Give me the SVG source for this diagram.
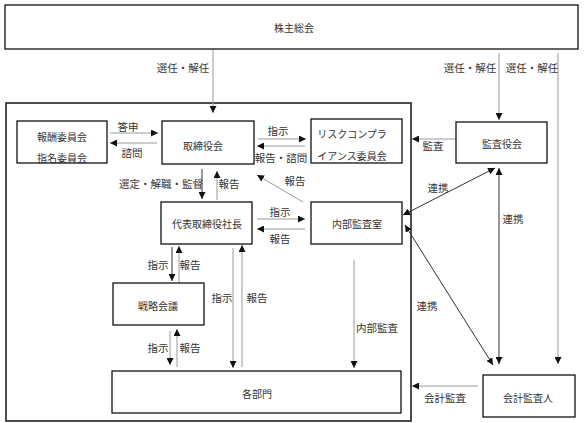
<svg xmlns="http://www.w3.org/2000/svg" width="587" height="423" viewBox="0 0 587 423">
<style>
.box{fill:#fff;stroke:#111;stroke-width:1.3}
.outer{fill:none;stroke:#222;stroke-width:1.6}
text{font-family:"Noto Sans CJK JP","Noto Sans",sans-serif;fill:#333;text-anchor:middle;dominant-baseline:central}
.t{font-size:10px}
.l{font-size:10.5px}
.g{stroke:#9a9a9a;stroke-width:1;fill:none}
.d{stroke:#333;stroke-width:1;fill:none}
</style>
<defs>
<marker id="ah" viewBox="0 0 10 10" refX="10" refY="5" markerWidth="7" markerHeight="7" markerUnits="userSpaceOnUse" orient="auto"><path d="M0,0L10,5L0,10Z" fill="#111"/></marker>
<marker id="as" viewBox="0 0 10 10" refX="0" refY="5" markerWidth="7" markerHeight="7" markerUnits="userSpaceOnUse" orient="auto"><path d="M10,0L0,5L10,10Z" fill="#111"/></marker>
</defs>
<rect class="outer" x="6" y="103" width="405" height="318"/>
<g id="connectors">
<line class="g" x1="213" y1="49" x2="213" y2="113" marker-end="url(#ah)"/>
<line class="g" x1="499" y1="53" x2="499" y2="120" marker-end="url(#ah)"/>
<line class="g" x1="558" y1="53" x2="558" y2="364" marker-end="url(#ah)"/>
<line class="g" x1="110" y1="133" x2="158" y2="133" marker-end="url(#ah)"/>
<line class="g" x1="157" y1="143" x2="110" y2="143" marker-end="url(#ah)"/>
<line class="g" x1="258" y1="139" x2="306" y2="139" marker-end="url(#ah)"/>
<line class="g" x1="305" y1="146" x2="257" y2="146" marker-end="url(#ah)"/>
<line class="g" x1="456" y1="139" x2="412" y2="139" marker-end="url(#ah)"/>
<line class="d" x1="202" y1="169" x2="202" y2="199" marker-end="url(#ah)"/>
<line class="g" x1="217" y1="200" x2="217" y2="171" marker-end="url(#ah)"/>
<line class="g" x1="303" y1="202" x2="257" y2="175" marker-end="url(#ah)"/>
<line class="g" x1="257" y1="219" x2="305" y2="219" marker-end="url(#ah)"/>
<line class="g" x1="305" y1="229" x2="257" y2="229" marker-end="url(#ah)"/>
<line class="d" x1="403" y1="215" x2="495" y2="168" marker-start="url(#as)" marker-end="url(#ah)"/>
<line class="d" x1="405" y1="225" x2="493" y2="365" marker-start="url(#as)" marker-end="url(#ah)"/>
<line class="d" x1="499" y1="168" x2="499" y2="364" marker-start="url(#as)" marker-end="url(#ah)"/>
<line class="d" x1="172" y1="247" x2="172" y2="281" marker-end="url(#ah)"/>
<line class="g" x1="179" y1="283" x2="179" y2="246" marker-end="url(#ah)"/>
<line class="g" x1="233" y1="248" x2="233" y2="368" marker-end="url(#ah)"/>
<line class="g" x1="242" y1="367" x2="242" y2="245" marker-end="url(#ah)"/>
<line class="g" x1="170" y1="331" x2="170" y2="365" marker-end="url(#ah)"/>
<line class="g" x1="177" y1="367" x2="177" y2="329" marker-end="url(#ah)"/>
<line class="g" x1="354" y1="260" x2="354" y2="368" marker-end="url(#ah)"/>
<line class="g" x1="478" y1="386" x2="412" y2="386" marker-end="url(#ah)"/>
<text class="l" x="183" y="67">選任・解任</text>
<text class="l" x="470" y="67">選任・解任</text>
<text class="l" x="532" y="67">選任・解任</text>
<text class="l" x="128" y="126">答申</text>
<text class="l" x="132" y="152">諮問</text>
<text class="l" x="278" y="130">指示</text>
<text class="l" x="281" y="157">報告・諮問</text>
<text class="l" x="433" y="145">監査</text>
<text class="l" x="161" y="183">選定・解職・監督</text>
<text class="l" x="229" y="183">報告</text>
<text class="l" x="295" y="180">報告</text>
<text class="l" x="280" y="211">指示</text>
<text class="l" x="280" y="238">報告</text>
<text class="l" x="438" y="187">連携</text>
<text class="l" x="513" y="218">連携</text>
<text class="l" x="427" y="305">連携</text>
<text class="l" x="158" y="264">指示</text>
<text class="l" x="190" y="264">報告</text>
<text class="l" x="222" y="297">指示</text>
<text class="l" x="257" y="297">報告</text>
<text class="l" x="158" y="347">指示</text>
<text class="l" x="190" y="347">報告</text>
<text class="l" x="377" y="327">内部監査</text>
<text class="l" x="445" y="397">会計監査</text>
</g>
<g id="shareholders"><rect class="box" x="5" y="5" width="573" height="44"/><text class="t" x="294" y="27">株主総会</text></g>
<g id="committees"><rect class="box" x="17" y="121" width="90" height="42"/><text class="t" x="62" y="136">報酬委員会</text><text class="t" x="62" y="157">指名委員会</text></g>
<g id="board"><rect class="box" x="162" y="121" width="92" height="43"/><text class="t" x="203" y="145">取締役会</text></g>
<g id="risk"><rect class="box" x="311" y="119" width="91" height="44"/><text class="t" x="352" y="133">リスクコンプラ</text><text class="t" x="352" y="155">イアンス委員会</text></g>
<g id="auditors"><rect class="box" x="456" y="122" width="91" height="41"/><text class="t" x="502" y="143">監査役会</text></g>
<g id="president"><rect class="box" x="161" y="202" width="91" height="42"/><text class="t" x="207" y="223">代表取締役社長</text></g>
<g id="internal"><rect class="box" x="311" y="202" width="91" height="42"/><text class="t" x="357" y="223">内部監査室</text></g>
<g id="strategy"><rect class="box" x="113" y="283" width="91" height="42"/><text class="t" x="158" y="305">戦略会議</text></g>
<g id="departments"><rect class="box" x="112" y="371" width="289" height="42"/><text class="t" x="257" y="393">各部門</text></g>
<g id="accountant"><rect class="box" x="483" y="375" width="92" height="42"/><text class="t" x="528" y="397">会計監査人</text></g>
</svg>
